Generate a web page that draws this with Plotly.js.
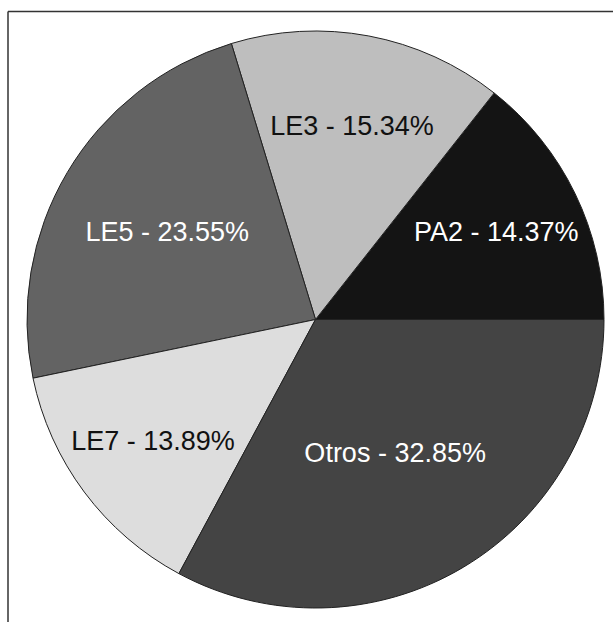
<!DOCTYPE html>
<html>
<head>
<meta charset="utf-8">
<script src="https://cdn.plot.ly/plotly-3.0.1.min.js"></script>
<style>
  html, body { margin: 0; padding: 0; background: #ffffff; }
  #chart { width: 613px; height: 622px; }
</style>
</head>
<body>
<div id="chart"></div>
<script>
// Data
const categories = ['PA2', 'LE3', 'LE5', 'LE7', 'Otros'];
const percentages = [14.37, 15.34, 23.55, 13.89, 32.85];

// Styling
const sliceColors = ['#141414', '#bebebe', '#636363', '#dddddd', '#444444'];
const labelColors = ['#ffffff', '#111111', '#ffffff', '#111111', '#ffffff'];

const W = 613, H = 622;
const M = { l: 27, r: 9, t: 31, b: 14 };
const plotW = W - M.l - M.r, plotH = H - M.t - M.b;

// frame lines (left and top), positioned in paper coordinates from pixel offsets
const frameX = 8, frameY = 11.5;
const px = x => (x - M.l) / plotW;
const py = y => 1 - (y - M.t) / plotH;

// first slice begins at 3 o'clock and runs counterclockwise
const total = percentages.reduce((a, b) => a + b, 0);
const rotation = 90 - 360 * percentages[0] / total;

const trace = {
  type: 'pie',
  labels: categories,
  values: percentages,
  sort: false,
  direction: 'counterclockwise',
  rotation: rotation,
  marker: { colors: sliceColors, line: { color: '#222222', width: 1 } },
  texttemplate: '%{label} - %{value:.2f}%',
  textposition: 'inside',
  insidetextorientation: 'horizontal',
  textfont: { family: 'Liberation Sans, Arial, sans-serif', size: 27, color: labelColors },
  hoverinfo: 'none',
  showlegend: false
};

const layout = {
  width: W, height: H,
  margin: M,
  paper_bgcolor: '#ffffff',
  showlegend: false,
  shapes: [
    { type: 'line', xref: 'paper', yref: 'paper', x0: px(frameX), x1: px(frameX), y0: py(frameY), y1: py(H + 5),
      line: { color: '#333333', width: 1.5 } },
    { type: 'line', xref: 'paper', yref: 'paper', x0: px(frameX), x1: px(W + 5), y0: py(frameY), y1: py(frameY),
      line: { color: '#333333', width: 1.5 } }
  ]
};

Plotly.newPlot('chart', [trace], layout, { displayModeBar: false, staticPlot: true });
</script>
</body>
</html>
